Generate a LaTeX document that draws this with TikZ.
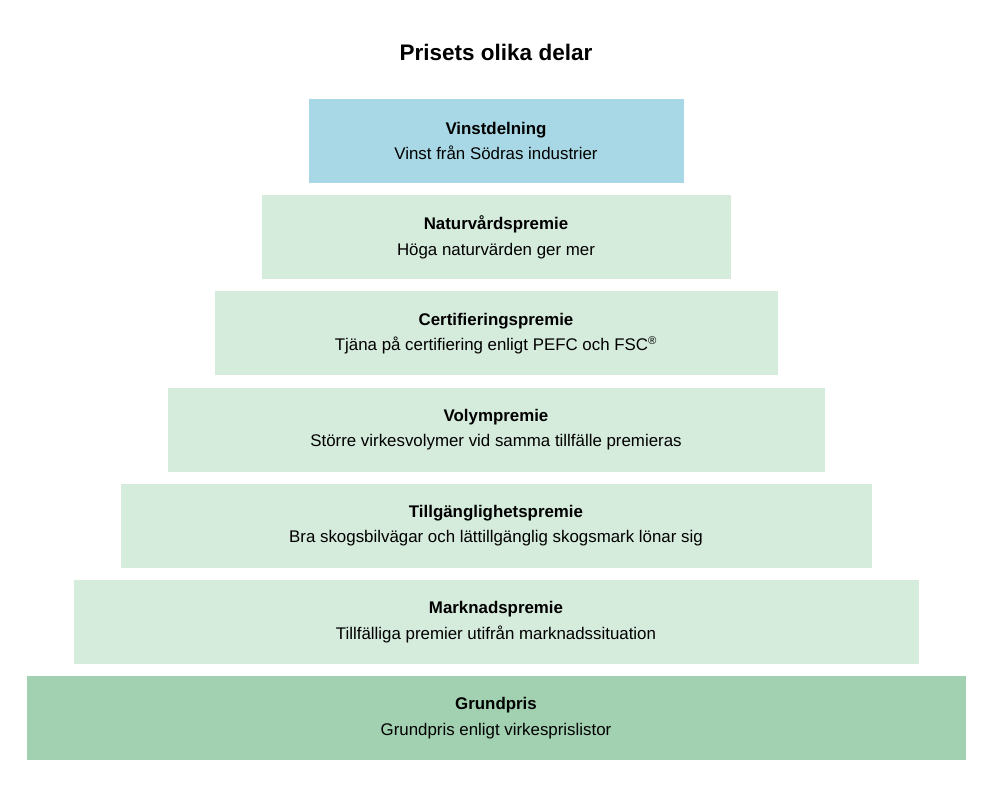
\documentclass[tikz,border=0pt]{standalone}
\usepackage{fontspec}
\setmainfont{Liberation Sans}
\usepackage{xcolor}
\definecolor{topblue}{HTML}{A8D8E5}
\definecolor{palegreen}{HTML}{D5EBDC}
\definecolor{basegreen}{HTML}{A2D1B1}

\begin{document}
\begin{tikzpicture}[x=0.025cm,y=-0.025cm]
                \useasboundingbox (0,0) rectangle (992,785);
                \tikzset{
                  layer/.style={draw=none,inner sep=0pt,align=center,font=\fontsize{12}{17}\selectfont}
                }

                % Title
                \node[font=\fontsize{16}{19}\selectfont\bfseries] (title) at (496,52) {Prisets olika delar};

                % Layers
                \foreach \i/\l/\col/\head/\sub in {
                    1/309/topblue/Vinstdelning/Vinst från Södras industrier,
                    2/262/palegreen/Naturvårdspremie/Höga naturvärden ger mer,
                    3/215/palegreen/Certifieringspremie/Tjäna på certifiering enligt PEFC och FSC\textsuperscript{®},
                    4/168/palegreen/Volympremie/Större virkesvolymer vid samma tillfälle premieras,
                    5/121/palegreen/Tillgänglighetspremie/Bra skogsbilvägar och lättillgänglig skogsmark lönar sig,
                    6/74/palegreen/Marknadspremie/Tillfälliga premier utifrån marknadssituation,
                    7/27/basegreen/Grundpris/Grundpris enligt virkesprislistor}
                {
                  \pgfmathsetmacro{\ytop}{99+96.2*(\i-1)}
                  \pgfmathsetmacro{\xr}{993-\l}
                  \fill[\col] (\l,\ytop) rectangle (\xr,\ytop+84);
                  \node[layer] (layer\i) at (496,\ytop+42) {\textbf{\head}\\[1pt]\sub};
                }
            \end{tikzpicture}
\end{document}
